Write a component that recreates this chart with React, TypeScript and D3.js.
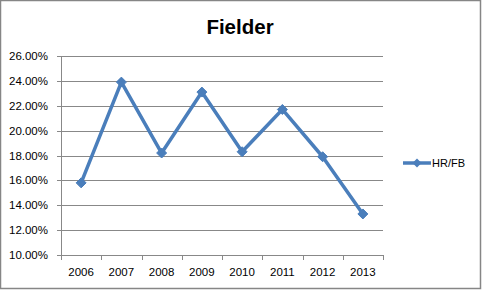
import React from "react";
import * as d3 from "d3";

const years = ["2006", "2007", "2008", "2009", "2010", "2011", "2012", "2013"];
const hrfb = [15.8, 23.9, 18.2, 23.1, 18.3, 21.7, 17.9, 13.3];
const yTicks = [10, 12, 14, 16, 18, 20, 22, 24, 26];
const seriesName = "HR/FB";
const title = "Fielder";

const W = 483, H = 291;
const plot = { left: 61, right: 383, top: 56, bottom: 255 };
const blue = "#4A7EBB";
const grid = "#888888";

export default function App() {
  const x = d3.scaleBand<string>().domain(years).range([plot.left, plot.right]);
  const y = d3.scaleLinear().domain([10, 26]).range([plot.bottom, plot.top]);
  const line = d3
    .line<number>()
    .x((_, i) => (x(years[i]) as number) + x.bandwidth() / 2)
    .y((d) => y(d));
  const diamond = (cx: number, cy: number, r: number) =>
    `M${cx},${cy - r}L${cx + r},${cy}L${cx},${cy + r}L${cx - r},${cy}Z`;
  const font = "'Liberation Sans', Arial, sans-serif";
  const boundaries = [...years.map((yr) => x(yr) as number), plot.right];

  return (
    <svg
      width={W}
      height={H}
      style={{ position: "absolute", left: 0, top: 0, background: "#fff" }}
      fontFamily={font}
    >
      <rect x={0.5} y={0.5} width={480} height={288} fill="#fff" stroke="#868686" strokeWidth={1.5} />
      <text x={240} y={34} textAnchor="middle" fontSize={20.5} fontWeight="bold" fill="#000">
        {title}
      </text>
      {yTicks.map((t) => (
        <g key={t}>
          <line x1={plot.left - 4} x2={plot.right} y1={Math.round(y(t)) + 0.5} y2={Math.round(y(t)) + 0.5} stroke={grid} strokeWidth={1} />
          <text x={48} y={y(t) + 4} textAnchor="end" fontSize={11.5} fill="#000">
            {t.toFixed(2)}%
          </text>
        </g>
      ))}
      <line x1={plot.left + 0.5} x2={plot.left + 0.5} y1={plot.top} y2={plot.bottom} stroke={grid} />
      {boundaries.map((b, i) => (
        <line key={i} x1={Math.round(b) + 0.5} x2={Math.round(b) + 0.5} y1={plot.bottom} y2={plot.bottom + 5} stroke={grid} />
      ))}
      {years.map((yr) => (
        <text key={yr} x={(x(yr) as number) + x.bandwidth() / 2} y={276} textAnchor="middle" fontSize={11.5} fill="#000">
          {yr}
        </text>
      ))}
      <path d={line(hrfb) || ""} fill="none" stroke={blue} strokeWidth={3.5} strokeLinejoin="round" />
      {hrfb.map((v, i) => (
        <path key={i} d={diamond((x(years[i]) as number) + x.bandwidth() / 2, y(v), 5)} fill={blue} stroke={blue} strokeWidth={1} />
      ))}
      <line x1={403} x2={431} y1={163} y2={163} stroke={blue} strokeWidth={3.5} />
      <path d={diamond(417, 163, 4.5)} fill={blue} />
      <text x={432} y={167} fontSize={11} fill="#000">
        {seriesName}
      </text>
    </svg>
  );
}
